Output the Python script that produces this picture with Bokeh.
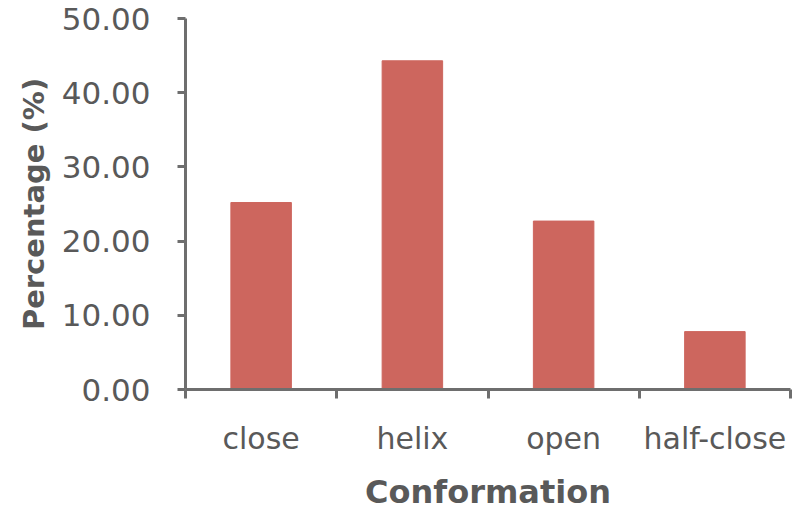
from bokeh.plotting import figure
from bokeh.models import Range1d, FixedTicker, NumeralTickFormatter, ColumnDataSource
from bokeh.embed import file_html
from bokeh.resources import INLINE

# Share of each conformation (%)
categories = ["close", "helix", "open", "half-close"]
percentages = [25.2, 44.3, 22.7, 7.8]
y_ticks = [0, 10, 20, 30, 40, 50]

FONT = "DejaVu Sans"
AXIS_GREY = "#6E6E6E"
TEXT_GREY = "#595959"
BAR_RED = "#CD665E"

centers = [i + 0.5 for i in range(len(categories))]
source = ColumnDataSource(dict(x=centers, pct=percentages, name=categories))

p = figure(
    width=801, height=513,
    x_range=Range1d(0, len(categories)),
    y_range=Range1d(0, 50),
    output_backend="svg", toolbar_location=None,
    min_border_left=185, min_border_right=11,
    min_border_top=18, min_border_bottom=123,
)

p.vbar(x="x", top="pct", width=0.4, source=source,
       fill_color=BAR_RED, line_color=BAR_RED)

p.outline_line_color = None
p.xgrid.visible = False
p.ygrid.visible = False

# y axis
ya = p.yaxis[0]
ya.ticker = FixedTicker(ticks=y_ticks)
ya.formatter = NumeralTickFormatter(format="0.00")
ya.axis_label = "Percentage (%)"
ya.axis_label_text_font = FONT
ya.axis_label_text_font_style = "bold"
ya.axis_label_text_font_size = "29px"
ya.axis_label_text_color = TEXT_GREY
ya.axis_label_standoff = 8
ya.major_label_text_font = FONT
ya.major_label_text_font_size = "31px"
ya.major_label_text_color = TEXT_GREY
ya.major_label_standoff = 27
ya.axis_line_color = AXIS_GREY
ya.axis_line_width = 3
ya.major_tick_line_color = AXIS_GREY
ya.major_tick_line_width = 3
ya.major_tick_out = 8
ya.major_tick_in = 0
ya.minor_tick_line_color = None

# x axis: labels at bar centres, tick marks between categories
xa = p.xaxis[0]
xa.ticker = FixedTicker(ticks=centers, minor_ticks=list(range(len(categories) + 1)))
xa.major_label_overrides = {c: name for c, name in zip(centers, categories)}
xa.axis_label = "Conformation"
xa.axis_label_text_font = FONT
xa.axis_label_text_font_style = "bold"
xa.axis_label_text_font_size = "32px"
xa.axis_label_text_color = TEXT_GREY
xa.axis_label_standoff = 14
xa.major_label_text_font = FONT
xa.major_label_text_font_size = "30px"
xa.major_label_text_color = TEXT_GREY
xa.major_label_standoff = 22
xa.axis_line_color = AXIS_GREY
xa.axis_line_width = 3
xa.major_tick_line_color = None
xa.major_tick_out = 0
xa.major_tick_in = 0
xa.minor_tick_line_color = AXIS_GREY
xa.minor_tick_line_width = 3
xa.minor_tick_out = 9
xa.minor_tick_in = 0

open("out.html", "w").write(file_html(p, INLINE))
